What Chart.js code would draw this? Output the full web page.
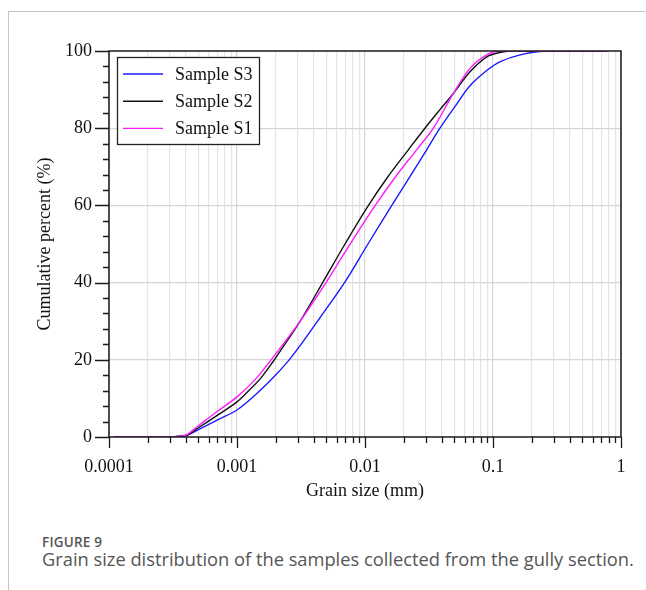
<!DOCTYPE html>
<html>
<head>
<meta charset="utf-8">
<script src="https://cdn.jsdelivr.net/npm/chart.js@4.4.1/dist/chart.umd.min.js"></script>
<style>
html,body{margin:0;padding:0;background:#fff;width:646px;height:590px;overflow:hidden;}
#frame{position:absolute;left:8px;top:11px;width:660px;height:600px;border-top:1px solid #c4c4c4;border-left:1px solid #c4c4c4;}
#wrap{position:absolute;left:0;top:0;width:646px;height:520px;}
#fig{position:absolute;left:42px;top:533px;font:600 13.5px 'Open Sans',sans-serif;color:#555;letter-spacing:0.2px;}
#cap{position:absolute;left:42px;top:546px;font:400 18.3px 'Open Sans',sans-serif;color:#555;white-space:nowrap;}
</style>
</head>
<body>
<div id="frame"></div>
<div id="wrap"><canvas id="c"></canvas></div>
<div id="fig">FIGURE 9</div>
<div id="cap">Grain size distribution of the samples collected from the gully section.</div>
<script>
// ---- data ----
const seriesNames = ['Sample S3', 'Sample S2', 'Sample S1'];
// Sample S3 (blue)
const s3Size = [0.00011, 0.0003, 0.00036, 0.00041, 0.0005, 0.0007, 0.001, 0.0014, 0.00187, 0.0025, 0.0031, 0.00445, 0.00698, 0.01055, 0.0162, 0.0225, 0.0303, 0.0385, 0.0514, 0.0661, 0.0898, 0.113, 0.163, 0.255, 0.78];
const s3Pct  = [0, 0, 0.2, 0.5, 1.9, 4.4, 7.0, 11.0, 15.0, 19.6, 23.6, 30.9, 40.2, 50, 60, 67.5, 74.4, 80, 86, 91, 95, 97.2, 99, 100, 100];
// Sample S2 (black)
const s2Size = [0.00011, 0.0003, 0.00036, 0.00041, 0.0005, 0.0007, 0.001, 0.00126, 0.00151, 0.00191, 0.00217, 0.0031, 0.00467, 0.00698, 0.0104, 0.015, 0.0218, 0.0294, 0.0385, 0.049, 0.0661, 0.0893, 0.113, 0.136, 0.78];
const s2Pct  = [0, 0, 0.2, 0.5, 2.4, 5.6, 9.1, 12.3, 15.0, 19.5, 22.2, 29.9, 40, 50, 59.5, 67.3, 74.4, 80, 84.8, 89, 94.6, 98.5, 99.6, 100, 100];
// Sample S1 (magenta)
const s1Size = [0.00011, 0.0003, 0.00036, 0.00041, 0.0005, 0.0007, 0.001, 0.00138, 0.0018, 0.0031, 0.00496, 0.00698, 0.0118, 0.0172, 0.0253, 0.0342, 0.049, 0.0661, 0.0893, 0.113, 0.78];
const s1Pct  = [0, 0, 0.2, 0.7, 2.9, 6.6, 10.4, 14.8, 19.5, 29.9, 40, 47.9, 59.6, 67.3, 74.4, 80, 89, 95.5, 99, 100, 100];

const xDecades = [0.0001, 0.001, 0.01, 0.1, 1];
const xTickLabels = ['0.0001', '0.001', '0.01', '0.1', '1'];
const yTicks = [0, 20, 40, 60, 80, 100];
const yMinorStep = 4;

const serif = "'Liberation Serif','Times New Roman',serif";
const colors = ['#1a1aff', '#111111', '#ff1aff'];
const seriesSizes = [s3Size, s2Size, s1Size];
const seriesValues = [s3Pct, s2Pct, s1Pct];

function pts(sizes, vals){ return sizes.map((g,i)=>({x:g, y:vals[i]})); }

// all log positions 1..9 x 10^n
function logPositions(){
  const out=[];
  for(let d=0; d<xDecades.length; d++){
    for(let s=1; s<=9; s++){
      const v = s*xDecades[d];
      if (v <= xDecades[xDecades.length-1]*1.0000001) out.push({v, major: s===1});
    }
  }
  return out;
}

const axesAndLegend = {
  id:'axesAndLegend',
  afterDraw(chart){
    const {ctx, chartArea:a, scales:{x,y}} = chart;
    ctx.save();
    // frame
    ctx.strokeStyle='#1a1a1a'; ctx.lineWidth=1.5;
    ctx.strokeRect(a.left, a.top, a.right-a.left, a.bottom-a.top);
    // y ticks
    ctx.lineWidth=1.3;
    ctx.beginPath();
    for(let v=0; v<=100; v+=yMinorStep){
      const py = Math.round(y.getPixelForValue(v))+0.5;
      const len = (v%20===0)?14:6;
      ctx.moveTo(a.left-len, py); ctx.lineTo(a.left, py);
    }
    // x ticks
    logPositions().forEach(p=>{
      const px = Math.round(x.getPixelForValue(p.v))+0.5;
      const len = p.major?11:6;
      ctx.moveTo(px, a.bottom); ctx.lineTo(px, a.bottom+len);
    });
    ctx.stroke();
    // legend
    const lx = a.left+8, ly = a.top+6, lw = 142, lh = 87;
    ctx.fillStyle='#fff';
    ctx.fillRect(lx, ly, lw, lh);
    ctx.strokeStyle='#222'; ctx.lineWidth=1.3;
    ctx.strokeRect(lx+0.5, ly+0.5, lw, lh);
    ctx.font = '18px '+serif;
    ctx.textBaseline='middle'; ctx.textAlign='left';
    chart.data.datasets.forEach((ds,i)=>{
      const ry = ly + 17 + i*27.2;
      ctx.strokeStyle = ds.borderColor; ctx.lineWidth=1.4;
      ctx.beginPath(); ctx.moveTo(lx+6, ry); ctx.lineTo(lx+46, ry); ctx.stroke();
      ctx.fillStyle='#111';
      ctx.fillText(ds.label, lx+58, ry+1);
    });
    ctx.restore();
  }
};

new Chart(document.getElementById('c'), {
  type:'line',
  data:{
    datasets: seriesNames.map((n,i)=>({
      label:n,
      data:pts(seriesSizes[i], seriesValues[i]),
      borderColor:colors[i],
      backgroundColor:colors[i],
      borderWidth:1.4,
      pointRadius:0,
      fill:false,
      tension:0.35,
      order: 2-i
    }))
  },
  options:{
    responsive:true,
    maintainAspectRatio:false,
    animation:false,
    events:[],
    layout:{padding:{left:0, top:51, right:25, bottom:0}},
    plugins:{legend:{display:false}, tooltip:{enabled:false}},
    scales:{
      x:{
        type:'logarithmic',
        min:xDecades[0], max:xDecades[xDecades.length-1],
        afterBuildTicks(scale){ scale.ticks = logPositions().map(p=>({value:p.v, major:p.major})); },
        afterFit(scale){ scale.height = 83; },
        border:{display:false},
        grid:{drawTicks:false, color:(c)=> (c.tick && c.tick.major) ? '#d6d6d6' : '#e4e4e4', lineWidth:1.2},
        ticks:{
          autoSkip:false, maxRotation:0, padding:19,
          color:'#111', font:{family:serif, size:18},
          callback:(v)=>{ const k = xDecades.findIndex(d=>Math.abs(d-v)/d<1e-6); return k>=0 ? xTickLabels[k] : ''; }
        },
        title:{display:true, text:'Grain size (mm)', color:'#111', font:{family:serif, size:18}, padding:{top:0, bottom:18}}
      },
      y:{
        min:0, max:100,
        afterBuildTicks(scale){ scale.ticks = yTicks.map(v=>({value:v})); },
        afterFit(scale){ scale.width = 109; },
        border:{display:false},
        grid:{drawTicks:false, color:(c)=> (c.tick && (c.tick.value===0 || c.tick.value===100)) ? 'rgba(0,0,0,0)' : '#d6d6d6', lineWidth:1.2},
        ticks:{padding:17, color:'#111', font:{family:serif, size:18}},
        title:{display:true, text:'Cumulative percent (%)', color:'#111', font:{family:serif, size:18}, padding:{top:34, bottom:0}}
      }
    }
  },
  plugins:[axesAndLegend]
});
</script>
</body>
</html>
